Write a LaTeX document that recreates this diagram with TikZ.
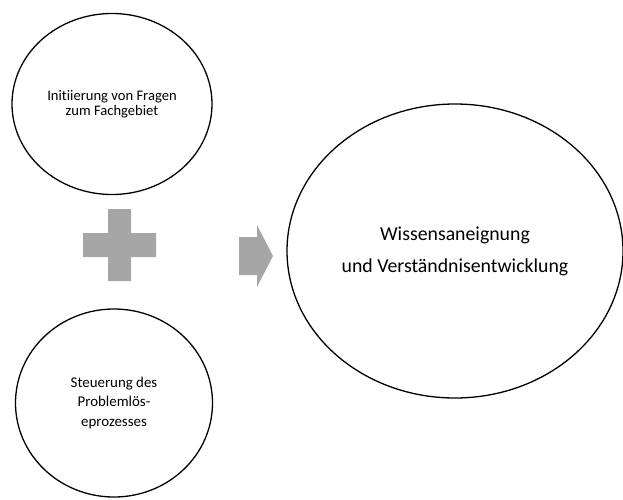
\documentclass[tikz,border=0pt]{standalone}
\usepackage{fontspec}
\setmainfont[Ligatures=CommonOff]{Carlito}
\usetikzlibrary{shapes.geometric}
\definecolor{shapegray}{HTML}{A6A6A6}
\tikzset{
  bubble/.style={draw,ellipse,line width=1.3pt,inner sep=0pt,align=center}
}

\begin{document}
\begin{tikzpicture}[x=1pt,y=-1pt]
  \useasboundingbox (0,0) rectangle (623,500);
  \node[bubble,minimum width=200,minimum height=181,
        font=\fontsize{14.6}{15.5}\selectfont] (fragen) at (112,104)
    {Initiierung von Fragen\\zum Fachgebiet};
  \node[bubble,minimum width=197,minimum height=188,
        font=\fontsize{14.9}{19.5}\selectfont] (steuerung) at (114,403)
    {Steuerung des\\Problemlös-\\eprozesses};
  \node[bubble,minimum width=336,minimum height=294,
        font=\fontsize{19.8}{32}\selectfont] (wissen) at (455,251)
    {Wissensaneignung\\und Verständnisentwicklung};
  % plus sign
  \fill[shapegray] (108,209) -- (131,209) -- (131,233) -- (156,233)
    -- (156,257) -- (131,257) -- (131,281) -- (108,281) -- (108,257)
    -- (83,257) -- (83,233) -- (108,233) -- cycle;
  % arrow
  \fill[shapegray] (239,237) -- (257,237) -- (257,225) -- (273,256)
    -- (257,287) -- (257,275) -- (239,275) -- cycle;
\end{tikzpicture}
\end{document}
